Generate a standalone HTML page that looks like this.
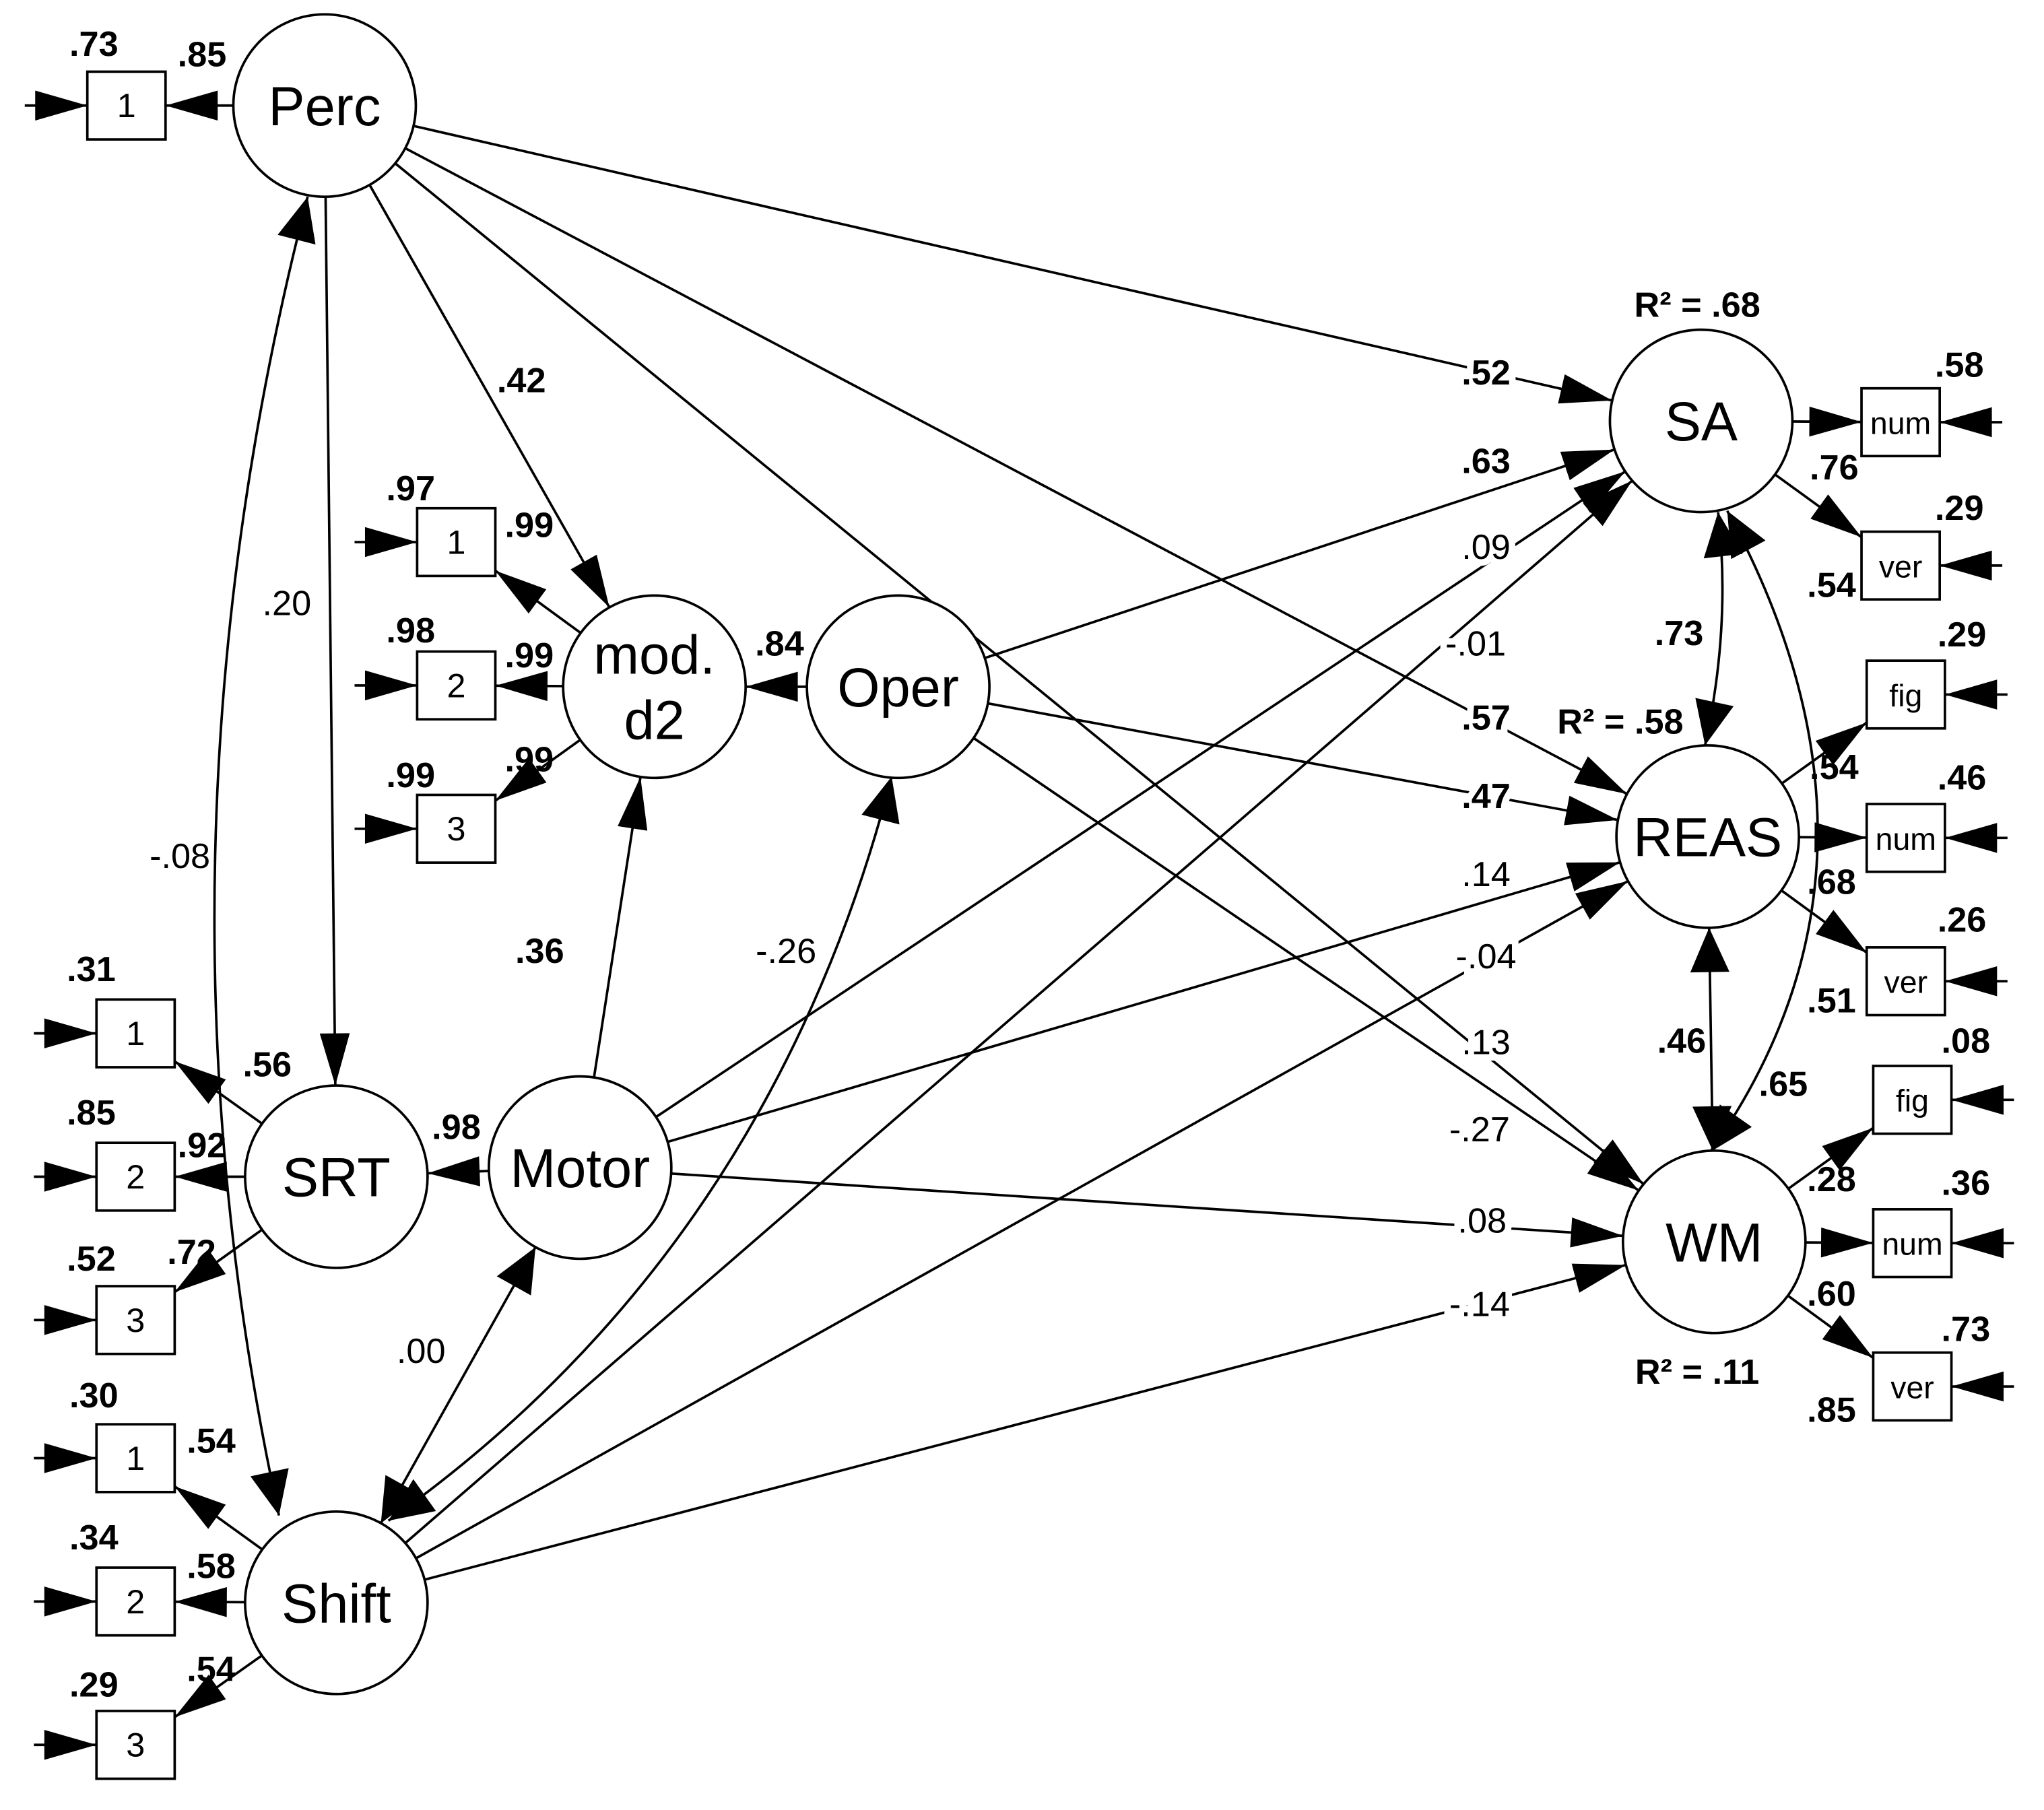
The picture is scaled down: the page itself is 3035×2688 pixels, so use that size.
<!DOCTYPE html>
<html><head><meta charset="utf-8"><style>
html,body{margin:0;padding:0;background:#fff;}
svg{display:block;}
text{font-family:"Liberation Sans",Arial,sans-serif;}
</style></head><body>
<svg id="s" width="3035" height="2688" viewBox="0 0 1568 1389" preserveAspectRatio="none" xmlns="http://www.w3.org/2000/svg"></svg>
<script>
const S=document.getElementById('s');const NS='http://www.w3.org/2000/svg';
function el(t,a,txt){const e=document.createElementNS(NS,t);for(const k in a)e.setAttribute(k,a[k]);if(txt!==undefined)e.textContent=txt;S.appendChild(e);return e;}
const R=70;const SW=1.9;
const C={Perc:[249,81],mod:[502,527],Oper:[689,527],SRT:[258,903],Motor:[445,896],Shift:[258,1230],SA:[1305,323],REAS:[1310,642],WM:[1315,953]};
const B={};
function box(id,x,y){B[id]=[x,y,60,52];}
box('p1',67,55);
box('m1',320,390);box('m2',320,500);box('m3',320,610);
box('s1',74,767);box('s2',74,877);box('s3',74,987);
box('h1',74,1093);box('h2',74,1203);box('h3',74,1313);
box('san',1428,298);box('sav',1428,408);
box('ref',1432,507);box('ren',1432,617);box('rev',1432,727);
box('wf',1437,818);box('wn',1437,928);box('wv',1437,1038);
const BT={p1:'1',m1:'1',m2:'2',m3:'3',s1:'1',s2:'2',s3:'3',h1:'1',h2:'2',h3:'3',san:'num',sav:'ver',ref:'fig',ren:'num',rev:'ver',wf:'fig',wn:'num',wv:'ver'};
function ctr(id){if(C[id])return C[id];const b=B[id];return [b[0]+b[2]/2,b[1]+b[3]/2];}
function edge(id,dx,dy){const c=ctr(id);const L=Math.hypot(dx,dy);const ux=dx/L,uy=dy/L;
 if(C[id])return [c[0]+ux*R,c[1]+uy*R];
 const b=B[id];const tx=Math.abs(ux)>1e-6?(b[2]/2)/Math.abs(ux):1e9;const ty=Math.abs(uy)>1e-6?(b[3]/2)/Math.abs(uy):1e9;const t=Math.min(tx,ty);
 return [c[0]+ux*t,c[1]+uy*t];}
function head(x,y,ux,uy,L,W){L=L||40;W=W||11.5;const bx=x-ux*L,by=y-uy*L;
 el('polygon',{points:`${x},${y} ${bx-uy*W},${by+ux*W} ${bx+uy*W},${by-ux*W}`,fill:'#000'});}
function arrow(a,b,both){const ca=ctr(a),cb=ctr(b);const dx=cb[0]-ca[0],dy=cb[1]-ca[1];
 const p=edge(a,dx,dy),q=edge(b,-dx,-dy);el('line',{x1:p[0],y1:p[1],x2:q[0],y2:q[1],stroke:'#000','stroke-width':SW});
 const L=Math.hypot(dx,dy);if(both){head(q[0],q[1],dx/L,dy/L,34,15);head(p[0],p[1],-dx/L,-dy/L,34,15);}else head(q[0],q[1],dx/L,dy/L);}
function curve(p,c,q,both){el('path',{d:`M${p[0]},${p[1]} Q${c[0]},${c[1]} ${q[0]},${q[1]}`,fill:'none',stroke:'#000','stroke-width':SW});
 let dx=q[0]-c[0],dy=q[1]-c[1],L=Math.hypot(dx,dy);head(q[0],q[1],dx/L,dy/L,34,15);
 if(both){dx=p[0]-c[0];dy=p[1]-c[1];L=Math.hypot(dx,dy);head(p[0],p[1],dx/L,dy/L,34,15);}}
function err(id,side){const b=B[id];const y=b[1]+b[3]/2;
 if(side<0){el('line',{x1:b[0]-48,y1:y,x2:b[0],y2:y,stroke:'#000','stroke-width':SW});head(b[0],y,1,0);}
 else{const x=b[0]+b[2];el('line',{x1:x+48,y1:y,x2:x,y2:y,stroke:'#000','stroke-width':SW});head(x,y,-1,0);}}
[['Perc','mod'],['Perc','SRT'],['Perc','SA'],['Perc','REAS'],['Perc','WM'],['Oper','mod'],['Oper','SA'],['Oper','REAS'],['Oper','WM'],
 ['Motor','mod'],['Motor','SRT'],['Motor','SA'],['Motor','REAS'],['Motor','WM'],['Shift','SA'],['Shift','REAS'],['Shift','WM']].forEach(x=>arrow(x[0],x[1]));
arrow('Motor','Shift',true);arrow('REAS','WM',true);
curve([1318,393],[1328,480],[1308,572],true);
curve([684,596],[590,960],[298,1167],true);
curve([236,151],[105,660],[214,1163],true);
curve([1325,392],[1470,660],[1312,884],true);
['p1'].forEach(b=>arrow('Perc',b));
['m1','m2','m3'].forEach(b=>arrow('mod',b));
['s1','s2','s3'].forEach(b=>arrow('SRT',b));
['h1','h2','h3'].forEach(b=>arrow('Shift',b));
['san','sav'].forEach(b=>arrow('SA',b));
['ref','ren','rev'].forEach(b=>arrow('REAS',b));
['wf','wn','wv'].forEach(b=>arrow('WM',b));
['p1','m1','m2','m3','s1','s2','s3','h1','h2','h3'].forEach(b=>err(b,-1));
['san','sav','ref','ren','rev','wf','wn','wv'].forEach(b=>err(b,1));
for(const k in C)el('circle',{cx:C[k][0],cy:C[k][1],r:R,fill:'#fff',stroke:'#000','stroke-width':SW});
for(const k in B){const b=B[k];el('rect',{x:b[0],y:b[1],width:b[2],height:b[3],fill:'#fff',stroke:'#000','stroke-width':SW});
 el('text',{x:b[0]+b[2]/2,y:b[1]+b[3]/2+9,'text-anchor':'middle','font-size':BT[k].length>1?24:26},BT[k]);}
const NT={Perc:'Perc',Oper:'Oper',SRT:'SRT',Motor:'Motor',Shift:'Shift',SA:'SA',REAS:'REAS',WM:'WM'};
for(const k in NT)el('text',{x:C[k][0],y:C[k][1]+15,'text-anchor':'middle','font-size':42},NT[k]);
el('text',{x:502,y:517,'text-anchor':'middle','font-size':42},'mod.');
el('text',{x:502,y:567,'text-anchor':'middle','font-size':42},'d2');
const Lb=[['.73',72,43,1],['.85',155,51,1],['.42',400,301,1],['.20',220,472,0],['-.08',138,666,0],
['.97',315,384,1],['.99',406,412,1],['.98',315,493,1],['.99',406,512,1],['.99',315,604,1],['.99',406,592,1],['.84',598,503,1],
['.31',70,753,1],['.56',205,826,1],['.85',70,863,1],['.92',155,888,1],['.52',70,975,1],['.72',147,970,1],
['.36',414,739,1],['-.26',603,739,0],['.98',350,874,1],['.00',323,1046,0],
['.30',72,1080,1],['.54',162,1115,1],['.34',72,1189,1],['.58',162,1211,1],['.29',72,1302,1],['.54',162,1290,1],
['.52',1140,295,1,1],['.63',1140,363,1,1],['.09',1140,429,0,1],['-.01',1132,503,0,1],['.57',1140,560,1,1],['.47',1140,620,1,1],
['.14',1140,680,0,1],['-.04',1140,743,0,1],['.13',1140,809,0,1],['-.27',1135,876,0,1],['.08',1137,946,0,1],['-.14',1135,1010,0,1],
['.58',1503,289,1],['.76',1407,368,1],['.29',1503,399,1],['.54',1405,458,1],
['.73',1288,495,1],['.29',1505,496,1],['.54',1407,598,1],['.46',1505,606,1],['.68',1405,686,1],['.26',1505,715,1],['.51',1405,777,1],
['.46',1290,808,1],['.65',1368,841,1],['.08',1508,808,1],['.28',1405,914,1],['.36',1508,917,1],['.60',1405,1002,1],['.73',1508,1029,1],['.85',1405,1091,1],
['R² = .68',1302,243,1],['R² = .58',1243,563,1],['R² = .11',1302,1062,1]];
Lb.forEach(l=>{const a={x:l[1],y:l[2],'text-anchor':'middle','font-size':27,'font-weight':l[3]?'bold':'normal'};
 if(l[4]){a.stroke='#fff';a['stroke-width']=10;a['paint-order']='stroke';}
 el('text',a,l[0]);});
</script>
</body></html>
